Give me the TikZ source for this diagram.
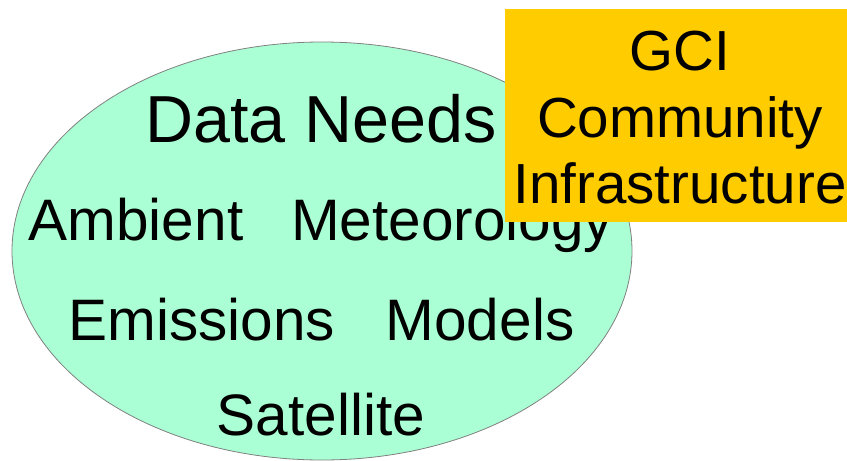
\documentclass[tikz,border=0pt]{standalone}
\usepackage{fontspec}
\setmainfont{Liberation Sans}
\usetikzlibrary{shapes.geometric}
\definecolor{needsgreen}{HTML}{AAFFD4}
\definecolor{gciorange}{HTML}{FFCC00}
\tikzset{
  need/.style={anchor=base, inner sep=0pt, font=\fontsize{58.5}{70}\selectfont},
  gciline/.style={anchor=base, inner sep=0pt, font=\fontsize{56.5}{67}\selectfont}
}
\begin{document}
\begin{tikzpicture}[x=1pt, y=-1pt]
  \useasboundingbox (0,0) rectangle (847,461);
  % Data needs ellipse
  \node (needs) [ellipse, draw=gray, line width=0.8pt, fill=needsgreen,
    minimum width=620pt, minimum height=418pt, inner sep=0pt] at (322,251) {};
  \node (title) [need, font=\fontsize{66.5}{78}\selectfont] at (321,142) {Data Needs};
  \node (ambient) [need] at (136,240) {Ambient};
  \node (meteo) [need] at (452,240) {Meteorology};
  \node (emis) [need] at (202,340) {Emissions};
  \node (models) [need] at (480,340) {Models};
  \node (sat) [need] at (321,435) {Satellite};

  % GCI box
  \node (gci) [rectangle, fill=gciorange, minimum width=342pt, minimum height=213pt,
    inner sep=0pt] at (676,115.5) {};
  \node (gci1) [gciline] at (680,70) {GCI};
  \node (gci2) [gciline] at (680,137) {Community};
  \node (gci3) [gciline] at (680,203) {Infrastructure};
\end{tikzpicture}
\end{document}
